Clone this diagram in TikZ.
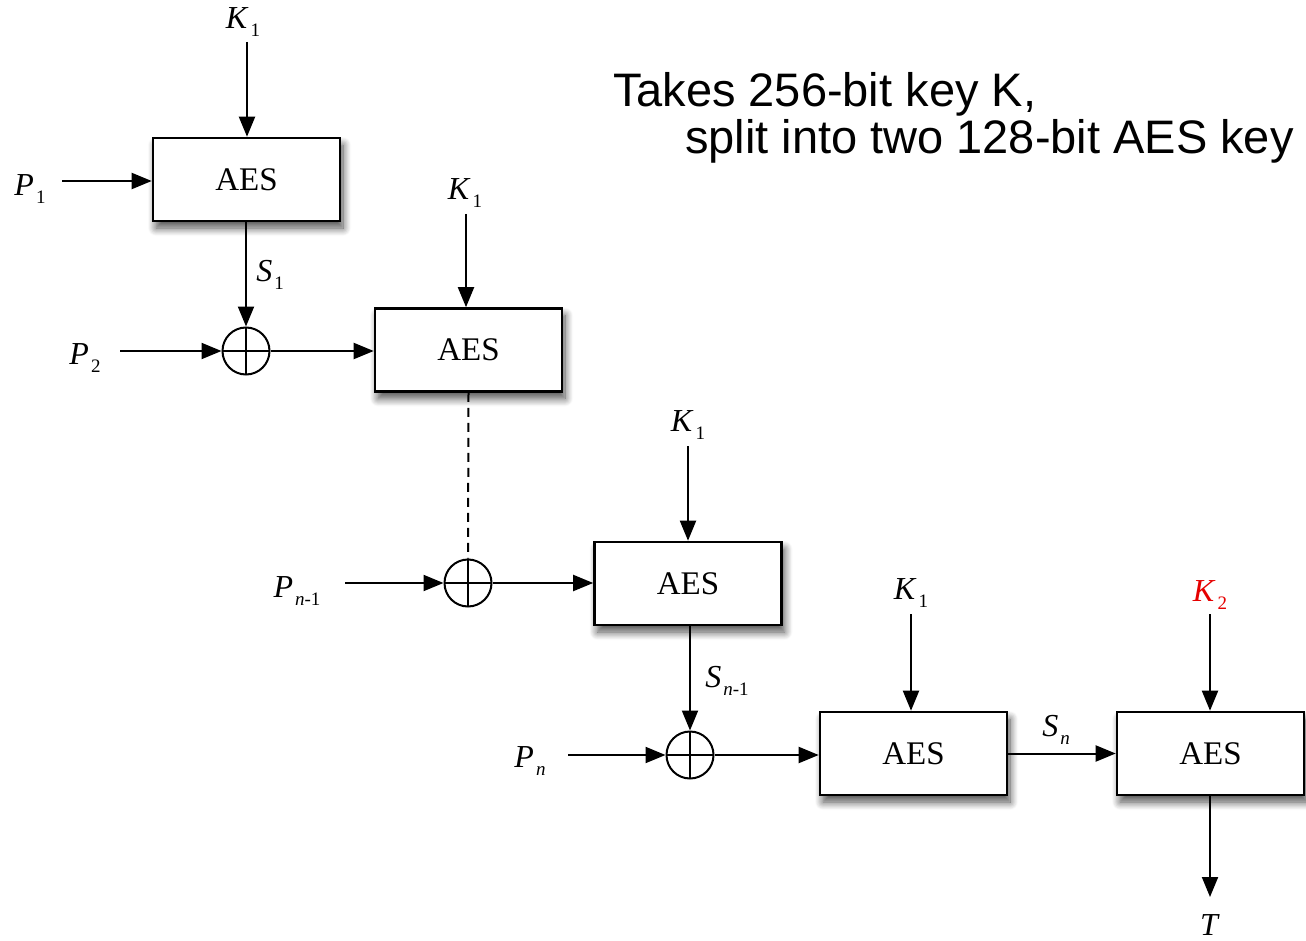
\documentclass[tikz,border=0pt]{standalone}
\usepackage{fontspec}
\setmainfont{Liberation Serif}
\newfontfamily\arialfont{Liberation Sans}
\usetikzlibrary{arrows.meta,shadows.blur}
\newcommand{\lblsz}{\fontsize{32}{32}\selectfont}
\newcommand{\subsz}{\fontsize{19}{19}\selectfont}
\newcommand{\vlab}[2]{{\lblsz\textit{#1}\kern2pt\raisebox{-8pt}{\subsz #2}}}
\begin{document}
\begin{tikzpicture}[x=1pt,y=-1pt,
  line width=2pt,
  arr/.style={-{Triangle[length=20pt,width=16pt]}},
  aesbox/.style={draw,line width=2.6pt,fill=white,minimum width=187pt,minimum height=83pt,inner sep=0pt,
     blur shadow={shadow xshift=3pt,shadow yshift=-7pt,shadow blur steps=10,shadow blur radius=8pt,shadow opacity=70},
     font=\fontsize{33}{33}\selectfont},
  xorc/.style={draw,circle,line width=2pt,minimum size=47pt,inner sep=0pt,
     path picture={\draw[line width=1.6pt] (path picture bounding box.north) -- (path picture bounding box.south)
       (path picture bounding box.west) -- (path picture bounding box.east);}},
  lab/.style={inner sep=0pt}
]
\useasboundingbox (0,0) rectangle (1306,941);
% boxes
\node[aesbox] (b1) at (246.5,179.5) {AES};
\node[aesbox] (b2) at (468.5,350) {AES};
\node[aesbox] (b3) at (688,583.5) {AES};
\node[aesbox] (b4) at (913.5,753.5) {AES};
\node[aesbox] (b5) at (1210.5,753.5) {AES};
% xors
\node[xorc] (x1) at (246,351) {};
\node[xorc] (x2) at (468,583) {};
\node[xorc] (x3) at (690,755) {};
% labels
\node[lab] (k1a) at (243,22) {\vlab{K}{1}};
\node[lab] (p1) at (30,189) {\vlab{P}{1}};
\node[lab] (s1) at (270,275) {\vlab{S}{1}};
\node[lab] (k1b) at (465,193) {\vlab{K}{1}};
\node[lab] (p2) at (85,358) {\vlab{P}{2}};
\node[lab] (k1c) at (688,425) {\vlab{K}{1}};
\node[lab] (pn1) at (297,591) {\vlab{P}{\textit{n}-1}};
\node[lab] (sn1) at (727,681) {\vlab{S}{\textit{n}-1}};
\node[lab] (pn) at (530,761) {\vlab{P}{\textit{n}}};
\node[lab] (k1d) at (911,593) {\vlab{K}{1}};
\node[lab,text=red!90!black] (k2) at (1210,595) {\vlab{K}{2}};
\node[lab] (sn) at (1056,730) {\vlab{S}{\textit{n}}};
\node[lab] (t) at (1210,925) {\lblsz\textit{T}};
% free ends
\coordinate (k1aE) at (247,42);
\coordinate (p1E) at (62,181);
\coordinate (k1bE) at (466,214);
\coordinate (p2E) at (120,351);
\coordinate (k1cE) at (688,446);
\coordinate (pn1E) at (345,583);
\coordinate (pnE) at (568,755);
\coordinate (k1dE) at (911,614);
\coordinate (k2E) at (1210,614);
\coordinate (tE) at (1210,897);
% connectors
\draw[arr] (k1aE) -- (b1.north -| k1aE);
\draw[arr] (p1E) -- (b1.west |- p1E);
\draw[arr] (b1.south -| x1) -- (x1.north);
\draw[arr] (p2E) -- (x1.west);
\draw[arr] (x1.east) -- (b2.west |- x1);
\draw[arr] (k1bE) -- (b2.north -| k1bE);
\draw[dashed,dash pattern=on 9pt off 6pt] (b2.south) -- (x2.north);
\draw[arr] (pn1E) -- (x2.west);
\draw[arr] (x2.east) -- (b3.west |- x2);
\draw[arr] (k1cE) -- (b3.north -| k1cE);
\draw[arr] (b3.south -| x3) -- (x3.north);
\draw[arr] (pnE) -- (x3.west);
\draw[arr] (x3.east) -- (b4.west |- x3);
\draw[arr] (k1dE) -- (b4.north -| k1dE);
\draw[arr] (b4.east) -- (b5.west);
\draw[arr] (k2E) -- (b5.north -| k2E);
\draw[arr] (b5.south -| tE) -- (tE);
% text
\node[anchor=base west,inner sep=0pt,font=\arialfont\fontsize{47}{47}\selectfont] (txt1) at (612,107) {Takes 256-bit key K,};
\node[anchor=base west,inner sep=0pt,font=\arialfont\fontsize{47}{47}\selectfont] (txt2) at (684,154) {split into two 128-bit AES key};
\end{tikzpicture}
\end{document}
